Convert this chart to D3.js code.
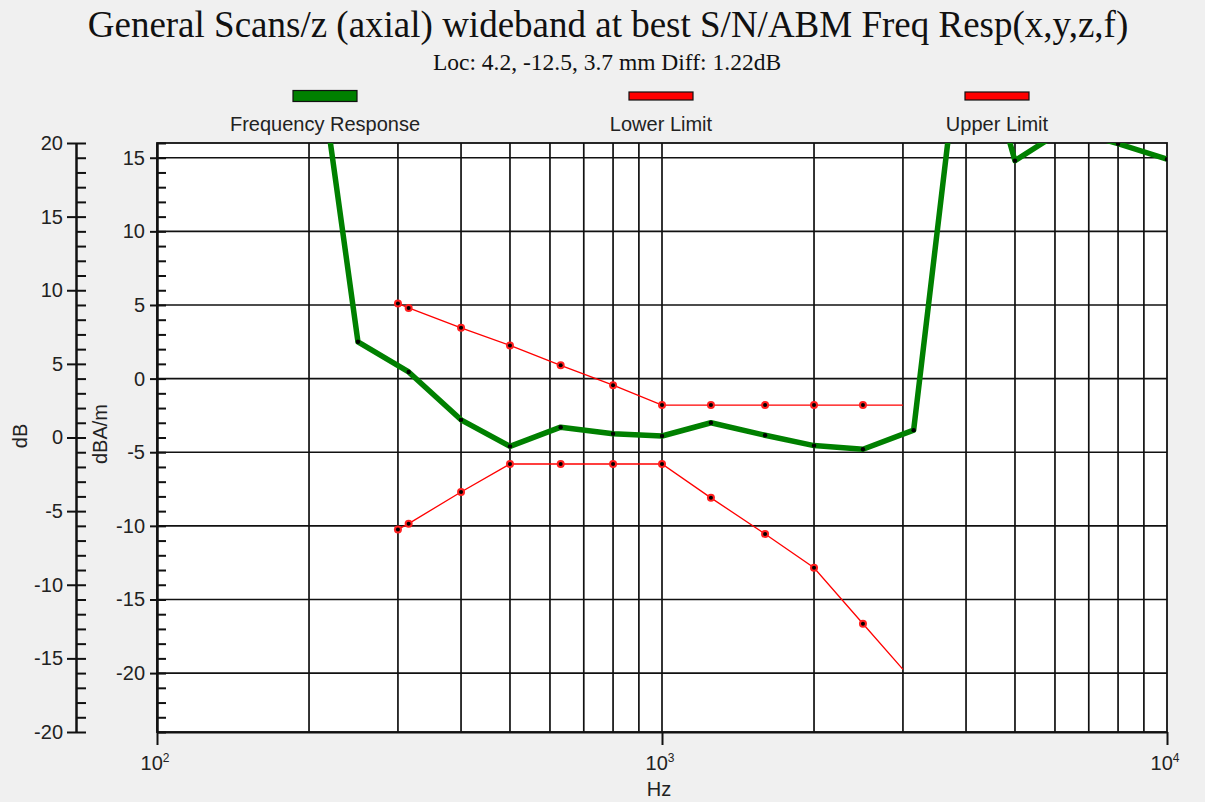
<!DOCTYPE html>
<html>
<head>
<meta charset="utf-8">
<script src="https://cdn.jsdelivr.net/npm/d3@7"></script>
<style>
  body { margin: 0; background: #f0f0f0; }
  svg { display: block; }
</style>
</head>
<body>
<svg id="chart" width="1205" height="802"></svg>
<script>
// data (values on the dBA/m axis)
var respFreqs  = [200, 250, 315, 400, 500, 630, 800, 1000, 1250, 1600, 2000, 2500, 3150, 4000, 5000, 6300, 8000, 10000];
var respValues = [26.5, 2.5, 0.45, -2.8, -4.6, -3.3, -3.75, -3.9, -3.0, -3.85, -4.55, -4.8, -3.5, 26.5, 14.8, 17.0, 15.95, 14.9];

var limitFreqs  = [300, 315, 400, 500, 630, 800, 1000, 1250, 1600, 2000, 2500, 3000];
var upperValues = [5.1, 4.8, 3.45, 2.25, 0.9, -0.45, -1.8, -1.8, -1.8, -1.8, -1.8, -1.8];
var lowerValues = [-10.25, -9.85, -7.7, -5.8, -5.8, -5.8, -5.8, -8.1, -10.55, -12.85, -16.65, -19.75];

var legendNames = ["Frequency Response", "Lower Limit", "Upper Limit"];

var dbTicks     = [-20, -15, -10, -5, 0, 5, 10, 15, 20];
var dbamTicks   = [-20, -15, -10, -5, 0, 5, 10, 15];
var decadeTicks = [100, 1000, 10000];
var decadeExps  = ["2", "3", "4"];

var titleText = "General Scans/z (axial) wideband at best S/N/ABM Freq Resp(x,y,z,f)";
var subText   = "Loc: 4.2, -12.5, 3.7 mm Diff: 1.22dB";

var svg = d3.select("#chart");

var pLeft = 157, pRight = 1167, pTop = 143, pBottom = 732;

var x = d3.scaleLog().domain([100, 10000]).range([pLeft, pRight]);
var yIn = d3.scaleLinear().domain([-24, 16]).range([pBottom, pTop]);   // dBA/m
var yOut = d3.scaleLinear().domain([-20, 20]).range([pBottom, pTop]);  // dB

var sans = "'Liberation Sans', Arial, sans-serif";
var serif = "'Liberation Serif', 'Times New Roman', serif";

// titles
svg.append("text")
    .attr("x", 608).attr("y", 37)
    .attr("text-anchor", "middle")
    .style("font-family", serif).style("font-size", "37px").style("fill", "#111")
    .text(titleText);

svg.append("text")
    .attr("x", 607).attr("y", 70)
    .attr("text-anchor", "middle")
    .style("font-family", serif).style("font-size", "23.5px").style("fill", "#111")
    .text(subText);

// legend
var legendStyle = [
    {fill: "#008000", h: 11},
    {fill: "#ff0000", h: 8},
    {fill: "#ff0000", h: 8}
];
var legend = svg.append("g");
legendNames.forEach(function (name, i) {
    var cx = 661 + (i - 1) * 336;
    var st = legendStyle[i];
    legend.append("rect")
        .attr("x", cx - 32).attr("y", 96 - st.h / 2)
        .attr("width", 64).attr("height", st.h)
        .style("fill", st.fill).style("stroke", "#111").style("stroke-width", 1.2);
    legend.append("text")
        .attr("x", cx).attr("y", 131)
        .attr("text-anchor", "middle")
        .style("font-family", sans).style("font-size", "20px").style("fill", "#222")
        .text(name);
});

// plot area
svg.append("rect")
    .attr("x", pLeft).attr("y", pTop)
    .attr("width", pRight - pLeft).attr("height", pBottom - pTop)
    .style("fill", "#fff");

// grid
var vGrid = [];
[100, 1000].forEach(function (d) {
    for (var k = 2; k <= 9; k++) vGrid.push(d * k);
});
vGrid.push(1000);

var grid = svg.append("g").style("stroke", "#111").style("stroke-width", 1.7);
grid.selectAll(".vg").data(vGrid).enter().append("line")
    .attr("x1", d => x(d)).attr("x2", d => x(d))
    .attr("y1", pTop).attr("y2", pBottom);
grid.selectAll(".hg").data(dbamTicks).enter().append("line")
    .attr("x1", pLeft).attr("x2", pRight)
    .attr("y1", d => yIn(d)).attr("y2", d => yIn(d));

svg.append("rect")
    .attr("x", pLeft).attr("y", pTop)
    .attr("width", pRight - pLeft).attr("height", pBottom - pTop)
    .style("fill", "none").style("stroke", "#111").style("stroke-width", 1.8);

// axes
function styleAxis(g) {
    g.selectAll("path, line").style("stroke", "#111").style("stroke-width", 2);
    g.selectAll("text").style("font-family", sans).style("font-size", "20px").style("fill", "#222");
}
var plainNum = d => String(d);   // hyphen minus like the original

var outer = svg.append("g").attr("transform", "translate(76,0)");
outer.append("g")
    .call(d3.axisRight(yOut).tickValues(d3.range(-20, 21)).tickSize(10).tickSizeOuter(0).tickFormat(""))
    .call(styleAxis);
outer.append("g")
    .call(d3.axisLeft(yOut).tickValues(dbTicks).tickSize(9).tickSizeOuter(0).tickPadding(4).tickFormat(plainNum))
    .call(styleAxis);

var inner = svg.append("g").attr("transform", "translate(" + pLeft + ",0)");
inner.append("g")
    .call(d3.axisRight(yIn).tickValues(d3.range(-24, 17)).tickSize(9).tickSizeOuter(0).tickFormat(""))
    .call(styleAxis);
inner.append("g")
    .call(d3.axisLeft(yIn).tickValues(dbamTicks).tickSize(7).tickSizeOuter(0).tickPadding(5).tickFormat(plainNum))
    .call(styleAxis);

var xAxis = svg.append("g").attr("transform", "translate(0," + pBottom + ")");
xAxis.call(d3.axisBottom(x).tickValues(decadeTicks).tickSize(13).tickSizeOuter(0).tickFormat(""))
    .call(styleAxis);

var xLab = xAxis.selectAll(".xl").data(decadeTicks).enter().append("text")
    .attr("x", d => x(d) - 2).attr("y", 38)
    .attr("text-anchor", "middle")
    .style("font-family", sans).style("font-size", "20px").style("fill", "#222");
xLab.append("tspan").text("10");
xLab.append("tspan").attr("dy", -8).style("font-size", "12px").text((d, i) => decadeExps[i]);

// axis titles
svg.append("text")
    .attr("x", 659).attr("y", 796).attr("text-anchor", "middle")
    .style("font-family", sans).style("font-size", "20px").style("fill", "#222")
    .text("Hz");
svg.append("text")
    .attr("transform", "translate(27,436) rotate(-90)").attr("text-anchor", "middle")
    .style("font-family", sans).style("font-size", "20px").style("fill", "#222")
    .text("dB");
svg.append("text")
    .attr("transform", "translate(107,434) rotate(-90)").attr("text-anchor", "middle")
    .style("font-family", sans).style("font-size", "20px").style("fill", "#222")
    .text("dBA/m");

// series
svg.append("clipPath").attr("id", "clip")
    .append("rect").attr("x", pLeft).attr("y", pTop)
    .attr("width", pRight - pLeft).attr("height", pBottom - pTop);

var plot = svg.append("g").attr("clip-path", "url(#clip)");

var line = d3.line().x(d => x(d[0])).y(d => yIn(d[1]));

var resp = respFreqs.map((f, i) => [f, respValues[i]]);
var upper = limitFreqs.map((f, i) => [f, upperValues[i]]);
var lower = limitFreqs.map((f, i) => [f, lowerValues[i]]);

[upper, lower].forEach(function (s) {
    plot.append("path").datum(s).attr("d", line)
        .style("fill", "none").style("stroke", "#ff0000").style("stroke-width", 1.3);
    // last point is the line end, no marker
    plot.selectAll(null).data(s.slice(0, -1)).enter().append("circle")
        .attr("cx", d => x(d[0])).attr("cy", d => yIn(d[1])).attr("r", 4)
        .style("fill", "#ff2020");
    plot.selectAll(null).data(s.slice(0, -1)).enter().append("circle")
        .attr("cx", d => x(d[0])).attr("cy", d => yIn(d[1])).attr("r", 2)
        .style("fill", "#000");
});

plot.append("path").datum(resp).attr("d", line)
    .style("fill", "none").style("stroke", "#008000").style("stroke-width", 5.5)
    .style("stroke-linejoin", "round");
plot.selectAll(null).data(resp).enter().append("circle")
    .attr("cx", d => x(d[0])).attr("cy", d => yIn(d[1])).attr("r", 2.2)
    .style("fill", "#000");
</script>
</body>
</html>
